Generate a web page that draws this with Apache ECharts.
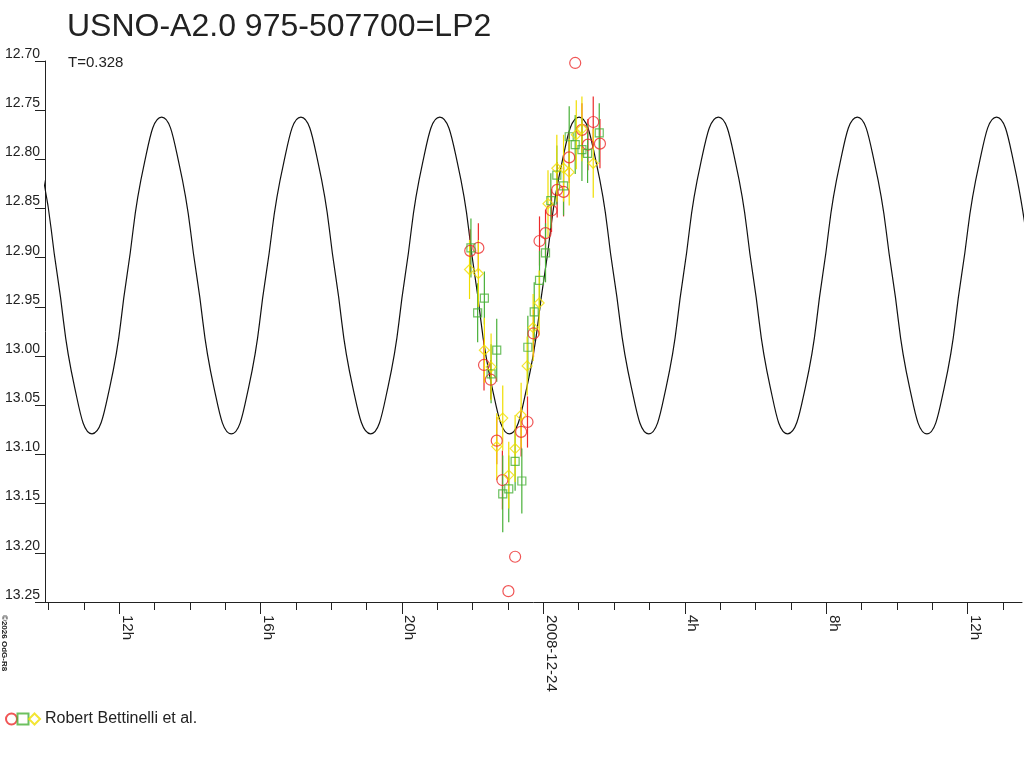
<!DOCTYPE html>
<html>
<head>
<meta charset="utf-8">
<title>USNO-A2.0 975-507700=LP2</title>
<script src="https://cdn.jsdelivr.net/npm/echarts@6/dist/echarts.min.js"></script>
<style>
  html, body { margin: 0; padding: 0; background: #fff; }
  #chart { width: 1024px; height: 768px; }
</style>
</head>
<body>
<div id="chart"></div>
<script>
// time in hours from 2008-12-24 0h, values in magnitude

// red circles
const redTime = [-2.07, -1.84, -1.68, -1.49, -1.32, -1.16, -0.99, -0.80, -0.63, -0.45, -0.28, -0.11,
  0.06, 0.23, 0.39, 0.57, 0.73, 0.90, 1.09, 1.26, 1.41, 1.60];
const redMag = [12.893, 12.890, 13.009, 13.024, 13.086, 13.126, 13.239, 13.204, 13.077, 13.067, 12.977, 12.883,
  12.875, 12.852, 12.831, 12.833, 12.798, 12.702, 12.770, 12.785, 12.762, 12.784];
const redErr = [0.022, 0.025, 0.026, 0.02, 0.024, 0.03, 0, 0, 0.025, 0.026, 0.024, 0.025,
  0.024, 0.022, 0.028, 0.025, 0.026, 0, 0.027, 0.026, 0.026, 0.025];

// green squares
const greenTime = [-2.05, -1.86, -1.67, -1.48, -1.32, -1.15, -0.98, -0.80, -0.61, -0.44, -0.26, -0.11,
  0.06, 0.21, 0.38, 0.57, 0.73, 0.90, 1.09, 1.25, 1.58];
const greenMag = [12.890, 12.956, 12.941, 13.018, 12.994, 13.140, 13.135, 13.107, 13.127, 12.991, 12.955, 12.923,
  12.895, 12.842, 12.816, 12.827, 12.777, 12.785, 12.790, 12.794, 12.773];
const greenErr = [0.03, 0.03, 0.027, 0.03, 0.032, 0.039, 0.034, 0.03, 0.033, 0.032, 0.03, 0.03,
  0.03, 0.028, 0.03, 0.03, 0.031, 0.03, 0.032, 0.03, 0.03];

// yellow diamonds
const yellowTime = [-2.09, -1.84, -1.67, -1.48, -1.32, -1.15, -0.98, -0.80, -0.63, -0.46, -0.29, -0.12,
  0.13, 0.38, 0.57, 0.73, 0.93, 1.09, 1.41];
const yellowMag = [12.912, 12.916, 12.994, 13.011, 13.092, 13.063, 13.121, 13.094, 13.060, 13.010, 12.971, 12.946,
  12.845, 12.809, 12.809, 12.813, 12.775, 12.769, 12.804];
const yellowErr = [0.03, 0.034, 0.033, 0.034, 0.034, 0.033, 0.034, 0.034, 0.033, 0.03, 0.034, 0.033,
  0.034, 0.034, 0.034, 0.034, 0.035, 0.033, 0.035];

// fitted light curve
const curveTime = [-14.73, -14.24, -13.75, -13.26, -12.77, -12.27, -11.78, -11.29,
  -10.80, -10.31, -9.81, -9.32, -8.83, -8.34, -7.85, -7.35,
  -6.86, -6.37, -5.88, -5.39, -4.89, -4.40, -3.91, -3.42,
  -2.93, -2.43, -1.94, -1.45, -0.96, -0.47, 0.03, 0.52,
  1.01, 1.50, 1.99, 2.49, 2.98, 3.47, 3.96, 4.45,
  4.95, 5.44, 5.93, 6.42, 6.91, 7.41, 7.90, 8.39,
  8.88, 9.37, 9.87, 10.36, 10.85, 11.34, 11.83, 12.33,
  12.82, 13.31, 13.80];
const curveMag = [12.757, 12.804, 12.918, 13.032, 13.079, 13.032, 12.918, 12.804,
  12.757, 12.804, 12.918, 13.032, 13.079, 13.032, 12.918, 12.804,
  12.757, 12.804, 12.918, 13.032, 13.079, 13.032, 12.918, 12.804,
  12.757, 12.804, 12.918, 13.032, 13.079, 13.032, 12.918, 12.804,
  12.757, 12.804, 12.918, 13.032, 13.079, 13.032, 12.918, 12.804,
  12.757, 12.804, 12.918, 13.032, 13.079, 13.032, 12.918, 12.804,
  12.757, 12.804, 12.918, 13.032, 13.079, 13.032, 12.918, 12.804,
  12.757, 12.804, 12.918];

// x axis ticks (hours)
const majorTicks = [-12, -8, -4, 0, 4, 8, 12];
const minorTicks = [-14, -13, -12, -11, -10, -9, -8, -7, -6, -5, -4, -3, -2, -1,
  0, 1, 2, 3, 4, 5, 6, 7, 8, 9, 10, 11, 12, 13];

const FONT = "'Liberation Sans', Arial, sans-serif";
const INK = '#222';
const RED = '#ec2a2a';
const GREEN = '#48b038';
const YELLOW = '#f0de00';

function zip3(t, m, e) {
  return t.map(function (v, i) { return [v, m[i], e[i]]; });
}

// vertical error bar drawn through the axis scales
function errorBars(name, data, color) {
  return {
    name: name,
    type: 'custom',
    data: data,
    encode: { x: 0, y: 1 },
    silent: true,
    z: 2,
    renderItem: function (params, api) {
      let x = api.value(0), m = api.value(1), e = api.value(2);
      let p1 = api.coord([x, m - e]);
      let p2 = api.coord([x, m + e]);
      return {
        type: 'line',
        shape: { x1: p1[0], y1: p1[1], x2: p2[0], y2: p2[1] },
        style: { stroke: color, lineWidth: 1.2 }
      };
    }
  };
}

function points(name, data, symbol, size, color) {
  return {
    name: name,
    type: 'scatter',
    data: data,
    symbol: symbol,
    symbolSize: size,
    z: 3,
    itemStyle: { color: 'rgba(255,255,255,0)', borderColor: color, borderWidth: 1.2 }
  };
}

let myChart = echarts.init(document.getElementById('chart'));
let option = {
  animation: false,
  backgroundColor: '#fff',
  textStyle: { fontFamily: FONT },
  title: [{
    text: 'USNO-A2.0 975-507700=LP2',
    left: 62, top: 6,
    textStyle: { fontSize: 32, fontWeight: 'normal', color: INK, fontFamily: FONT }
  }, {
    text: 'T=0.328',
    left: 63, top: 50,
    textStyle: { fontSize: 15, fontWeight: 'normal', color: INK, fontFamily: FONT }
  }],
  legend: {
    left: 0, top: 706,
    itemWidth: 11, itemHeight: 11, itemGap: -1.5,
    data: ['red', 'green', 'yellow'],
    formatter: function (name) { return name === 'yellow' ? 'Robert Bettinelli et al.' : ''; },
    textStyle: { fontSize: 16, color: INK, fontFamily: FONT }
  },
  graphic: [{
    type: 'text',
    x: 8, y: 615,
    rotation: -Math.PI / 2,
    style: { text: '\u00a92026 OdG-R8', font: 'bold 8px ' + FONT, fill: INK }
  }],
  grid: { left: 45, right: 2, top: 61, bottom: 166 },
  xAxis: [{
    type: 'value',
    position: 'bottom',
    min: -14.1, max: 13.54,
    axisLine: { onZero: false, lineStyle: { color: INK } },
    axisTick: { customValues: majorTicks, length: 12, lineStyle: { color: INK } },
    axisLabel: {
      customValues: majorTicks,
      rotate: -90,
      margin: 13,
      verticalAlign: 'bottom',
      fontSize: 15, color: INK, fontFamily: FONT,
      formatter: function (v) { return v === 0 ? '2008-12-24' : ((v + 24) % 24) + 'h'; }
    },
    splitLine: { show: false }
  }, {
    type: 'value',
    position: 'bottom',
    min: -14.1, max: 13.54,
    axisLine: { show: false, onZero: false },
    axisTick: { customValues: minorTicks, length: 8, lineStyle: { color: INK } },
    axisLabel: { show: false },
    splitLine: { show: false }
  }],
  yAxis: {
    type: 'value',
    inverse: true,
    min: 12.70, max: 13.25, interval: 0.05,
    axisLine: { show: true, onZero: false, lineStyle: { color: INK } },
    axisTick: { show: true, length: 10, lineStyle: { color: INK } },
    axisLabel: {
      margin: 5,
      verticalAlign: 'bottom',
      fontSize: 14, color: INK, fontFamily: FONT,
      formatter: function (v) { return v.toFixed(2); }
    },
    splitLine: { show: false }
  },
  series: [
    {
      name: 'curve',
      type: 'line',
      data: curveTime.map(function (t, i) { return [t, curveMag[i]]; }),
      smooth: 0.5,
      showSymbol: false,
      silent: true,
      z: 1,
      lineStyle: { color: '#111', width: 1.2 }
    },
    errorBars('redErr', zip3(redTime, redMag, redErr), RED),
    errorBars('greenErr', zip3(greenTime, greenMag, greenErr), GREEN),
    errorBars('yellowErr', zip3(yellowTime, yellowMag, yellowErr), YELLOW),
    points('red', zip3(redTime, redMag, redErr), 'circle', 11, RED),
    points('green', zip3(greenTime, greenMag, greenErr), 'rect', 8, GREEN),
    points('yellow', zip3(yellowTime, yellowMag, yellowErr), 'diamond', 10, YELLOW)
  ]
};
myChart.setOption(option);
</script>
</body>
</html>
